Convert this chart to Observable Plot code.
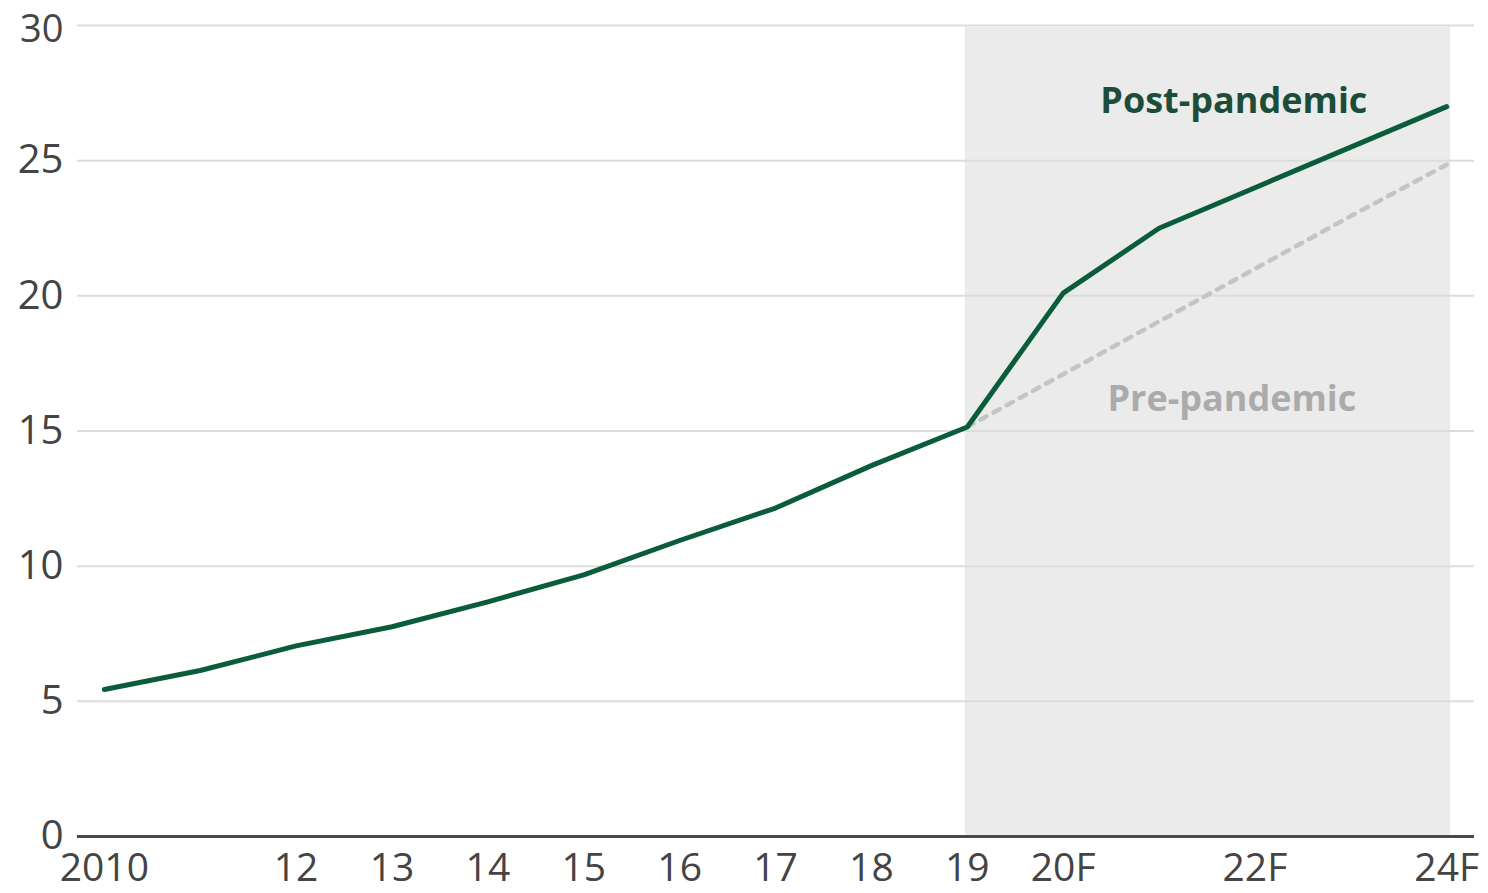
<!DOCTYPE html>
<html>
<head>
<meta charset="utf-8">
<script src="https://cdn.jsdelivr.net/npm/d3@7"></script>
<script src="https://cdn.jsdelivr.net/npm/@observablehq/plot@0.6"></script>
<style>
  html, body { margin: 0; padding: 0; background: #fff; }
  #chart { width: 1488px; height: 893px; }
</style>
</head>
<body>
<div id="chart"></div>
<script>
// Data
const years = [2010, 2011, 2012, 2013, 2014, 2015, 2016, 2017, 2018, 2019, 2020, 2021, 2022, 2023, 2024];
const postPandemic = [5.44, 6.14, 7.05, 7.76, 8.68, 9.68, 10.95, 12.15, 13.72, 15.15, 20.1, 22.5, 24.0, 25.5, 27.0];
const preYears = [2019, 2020, 2021, 2022, 2023, 2024];
const prePandemic = [15.15, 17.1, 19.05, 21.0, 22.95, 24.85];
const tickYears = [2010, 2012, 2013, 2014, 2015, 2016, 2017, 2018, 2019, 2020, 2022, 2024];
const tickLabels = ["2010", "12", "13", "14", "15", "16", "17", "18", "19", "20F", "22F", "24F"];
const yTicks = [0, 5, 10, 15, 20, 25, 30];
const forecastStart = 2019;
const forecastEnd = 2024;
const seriesLabels = ["Post-pandemic", "Pre-pandemic"];
const labelX = [2021.78, 2021.76];
const labelY = [27.2, 16.17];

const postData = years.map((x, i) => ({x, y: postPandemic[i]}));
const preData = preYears.map((x, i) => ({x, y: prePandemic[i]}));
const labelData = seriesLabels.map((t, i) => ({t, x: labelX[i], y: labelY[i]}));
const yMax = d3.max(yTicks);

const chart = Plot.plot({
  width: 1488,
  height: 893,
  marginLeft: 77,
  marginRight: 14,
  marginTop: 25,
  marginBottom: 57,
  style: {fontFamily: "'Open Sans', sans-serif", fontSize: "39px", color: "#444", background: "#fff"},
  x: {domain: [2009.72, 2024.29]},
  y: {domain: [0, 30]},
  marks: [
    Plot.rect([{x1: forecastStart, x2: forecastEnd}], {x1: "x1", x2: "x2", y1: 0, y2: 30, fill: "#ebebeb", insetLeft: -2, insetRight: -4, insetTop: 2}),
    Plot.ruleY(yTicks.filter(d => d > 0), {stroke: "#dcdcdc", strokeWidth: 2}),
    Plot.ruleY([0], {stroke: "#4a4a4a", strokeWidth: 3}),
    Plot.line(preData, {x: "x", y: "y", stroke: "#c4c4c4", strokeWidth: 4.5, strokeDasharray: "7,8"}),
    Plot.line(postData, {x: "x", y: "y", stroke: "#0a5c3b", strokeWidth: 5, strokeLinejoin: "round"}),
    Plot.text(labelData, {x: "x", y: "y", text: "t", fontWeight: "bold", fontSize: 36,
      fill: (d, i) => i === 0 ? "#1d4d39" : "#ababab"}),
    Plot.axisX({ticks: tickYears, tickFormat: d => tickLabels[tickYears.indexOf(d)], tickSize: 0, tickPadding: 17, fontSize: 39, fill: "#444", label: null}),
    Plot.axisY({ticks: yTicks.filter(d => d < yMax), tickFormat: d => String(d), tickSize: 0, tickPadding: 14, fontSize: 40, fill: "#444", label: null}),
    Plot.axisY({ticks: [yMax], tickFormat: d => String(d), tickSize: 0, tickPadding: 14, fontSize: 38, dy: 4, fill: "#444", label: null})
  ]
});
document.getElementById("chart").appendChild(chart);
</script>
</body>
</html>
